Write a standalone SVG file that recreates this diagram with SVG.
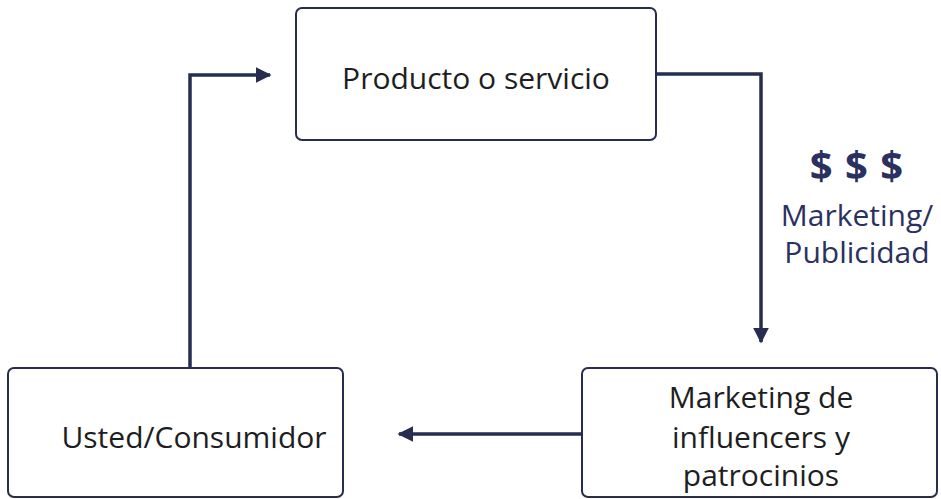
<svg xmlns="http://www.w3.org/2000/svg" width="941" height="499" viewBox="0 0 941 499">
<style>
.box{fill:#ffffff;stroke:#262d4f;stroke-width:2}
.lbl{font-family:"Open Sans","Liberation Sans",sans-serif;font-size:30px;fill:#1e1e22;text-anchor:middle}
.edge{fill:none;stroke:#262d4f;stroke-width:3.5}
.note{font-family:"Open Sans","Liberation Sans",sans-serif;fill:#2a3160;text-anchor:middle}
</style>
<defs>
<marker id="ah" viewBox="0 0 10 10" refX="9" refY="5" markerWidth="4.5" markerHeight="4.5" orient="auto" markerUnits="strokeWidth">
<path d="M0,0 L10,5 L0,10 Z" fill="#262d4f"/>
</marker>
</defs>
<rect width="941" height="499" fill="#ffffff"/>
<g id="connectors">
<path class="edge" d="M190,368 V75 H270" marker-end="url(#ah)"/>
<path class="edge" d="M656,74 H761 V342" marker-end="url(#ah)"/>
<path class="edge" d="M582,434 H399" marker-end="url(#ah)"/>
</g>
<g id="node-producto">
<rect class="box" x="296" y="8" width="360" height="132" rx="6"/>
<text class="lbl" x="476" y="89">Producto o servicio</text>
</g>
<g id="node-consumidor">
<rect class="box" x="8" y="368" width="335" height="129" rx="6"/>
<text class="lbl" x="194" y="448">Usted/Consumidor</text>
</g>
<g id="node-influencers">
<rect class="box" x="582" y="368" width="355" height="129" rx="6"/>
<text class="lbl" x="761" y="408">Marketing de</text>
<text class="lbl" x="761" y="448">influencers y</text>
<text class="lbl" x="761" y="486">patrocinios</text>
</g>
<g id="label-marketing">
<text class="note" x="857" y="180" font-size="40" font-weight="bold" letter-spacing="1">$ $ $</text>
<text class="note" x="857" y="226" font-size="30">Marketing/</text>
<text class="note" x="857" y="263" font-size="30">Publicidad</text>
</g>
</svg>
